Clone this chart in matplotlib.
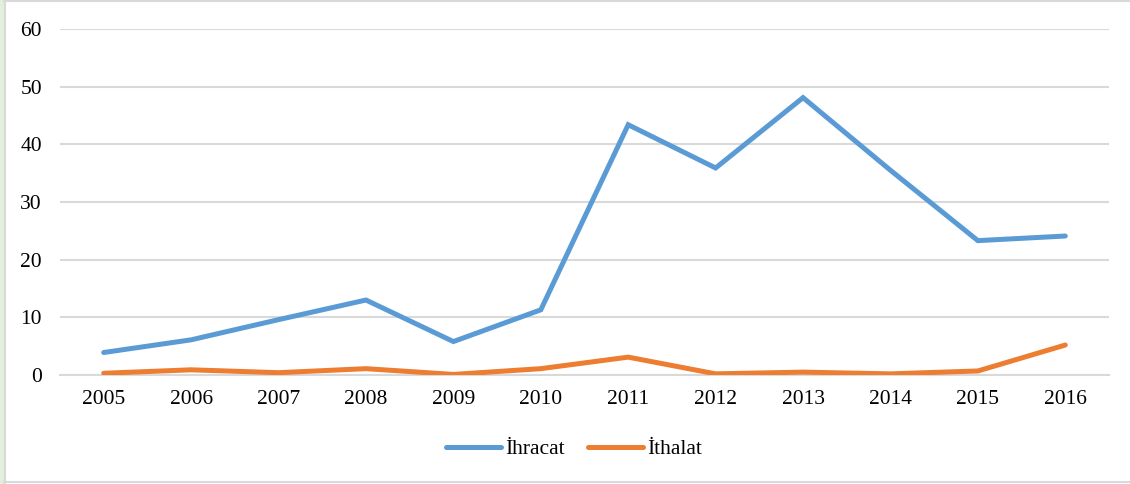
import numpy as np
import matplotlib
matplotlib.use('Agg')
import matplotlib.pyplot as plt
from matplotlib.patches import Rectangle
from matplotlib.lines import Line2D

years = ['2005', '2006', '2007', '2008', '2009', '2010',
         '2011', '2012', '2013', '2014', '2015', '2016']
ihracat = [3.9, 6.1, 9.6, 13.0, 5.8, 11.3, 43.4, 35.9, 48.1, 35.5, 23.3, 24.1]
ithalat = [0.3, 0.9, 0.4, 1.1, 0.1, 1.1, 3.1, 0.2, 0.5, 0.2, 0.7, 5.2]

plt.rcParams['font.family'] = ['Liberation Serif', 'DejaVu Serif']

fig = plt.figure(figsize=(11.3, 4.84), dpi=100)
ax = fig.add_axes([60 / 1130, 1 - 375 / 484, (1109 - 60) / 1130, (375 - 29) / 484])

x = np.arange(len(years))
ax.plot(x, ihracat, color='#5B9BD5', lw=3.6, solid_capstyle='round',
        solid_joinstyle='miter', label='İhracat', zorder=3)
ax.plot(x, ithalat, color='#ED7D31', lw=3.6, solid_capstyle='round',
        solid_joinstyle='miter', label='İthalat', zorder=3)

ax.set_xlim(-0.5, len(years) - 0.5)
ax.set_ylim(0, 60)
ax.set_yticks(range(0, 61, 10))
ax.set_xticks(x)
ax.set_xticklabels(years)
ax.tick_params(length=0, labelsize=15.5, colors='black')
ax.tick_params(axis='x', pad=11)
ax.tick_params(axis='y', pad=13)
ax.grid(axis='y', color='#D9D9D9', lw=1.5)
ax.set_axisbelow(True)
for s in ['top', 'right', 'left']:
    ax.spines[s].set_visible(False)
ax.spines['bottom'].set_color('#D9D9D9')
ax.spines['bottom'].set_linewidth(1.5)

leg = fig.legend(loc='center', bbox_to_anchor=(574 / 1130, 1 - 449 / 484), ncol=2,
                 frameon=False, fontsize=15.5, handlelength=2.55, handletextpad=0.2,
                 columnspacing=1.1)

# outer frame like the source document
fig.patches.append(Rectangle((0, 0), 4 / 1130, 1, transform=fig.transFigure,
                             color='#E2EFDA', zorder=0))
fig.lines.append(Line2D([4.5 / 1130, 4.5 / 1130], [0, 1], transform=fig.transFigure,
                        color='#D9D9D9', lw=1.5))
fig.lines.append(Line2D([4 / 1130, 1], [1 - 1 / 484, 1 - 1 / 484], transform=fig.transFigure,
                        color='#D9D9D9', lw=1.5))
fig.lines.append(Line2D([4 / 1130, 1], [2 / 484, 2 / 484], transform=fig.transFigure,
                        color='#D9D9D9', lw=1.5))

fig.savefig('out.png', dpi=100)
